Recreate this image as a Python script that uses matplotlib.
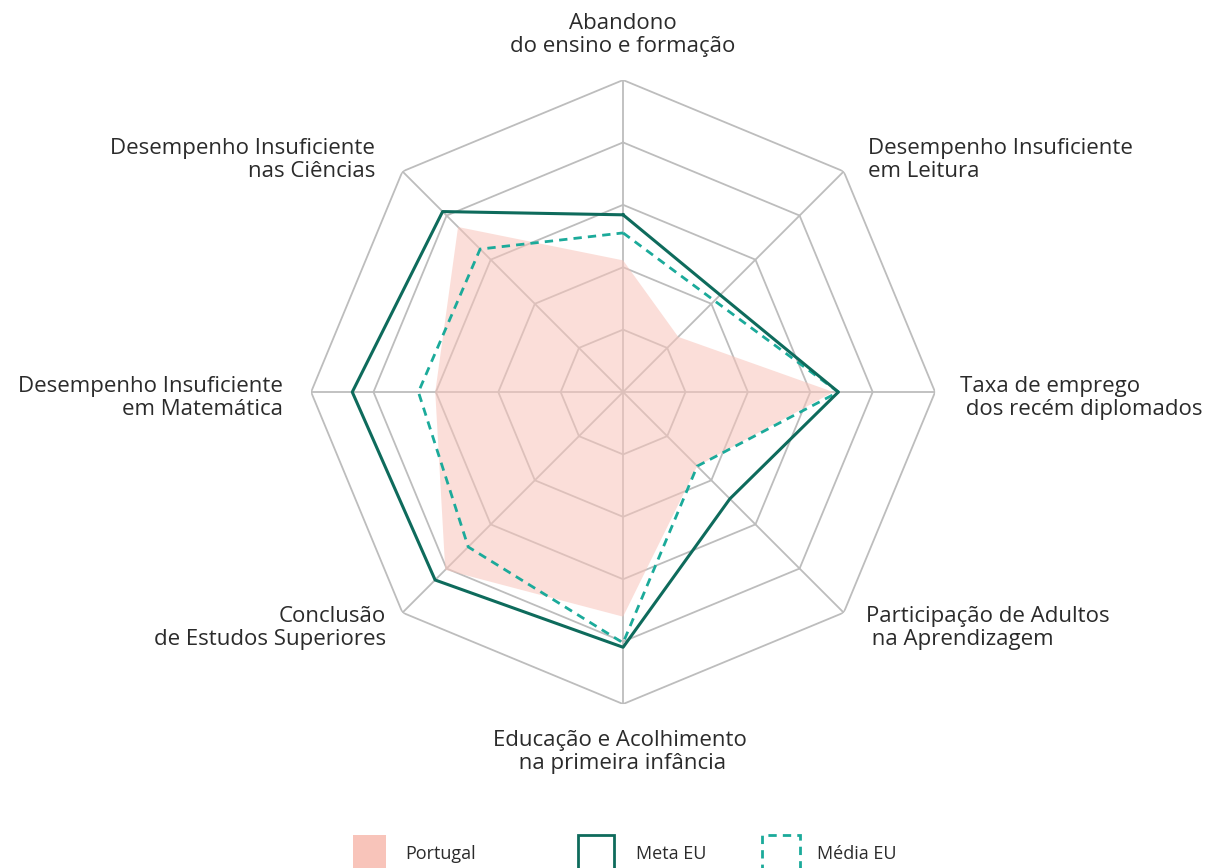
import numpy as np
import matplotlib.pyplot as plt
from matplotlib.patches import Rectangle

plt.rcParams['font.family'] = ['Open Sans', 'DejaVu Sans']

# Eixos (no sentido dos ponteiros do relógio a partir do topo)
categorias = [
    'Abandono\ndo ensino e formação',
    'Desempenho Insuficiente\nem Leitura',
    'Taxa de emprego\n dos recém diplomados',
    'Participação de Adultos\n na Aprendizagem',
    'Educação e Acolhimento\n na primeira infância',
    'Conclusão\nde Estudos Superiores',
    'Desempenho Insuficiente\nem Matemática',
    'Desempenho Insuficiente\nnas Ciências',
]

# Valores (escala 0-5)
portugal = [2.11, 1.25, 3.37, 1.68, 3.60, 4.03, 3.01, 3.74]
meta_eu = [2.84, 2.20, 3.45, 2.42, 4.09, 4.26, 4.34, 4.09]
media_eu = [2.55, 2.07, 3.45, 1.68, 4.02, 3.51, 3.28, 3.24]
niveis = [1, 2, 3, 4, 5]

cor_pt = '#F8C4BA'
cor_meta = '#0E6B5C'
cor_media = '#1BAA9A'
cor_grelha = '#BDBDBD'
cor_texto = '#2B2B2B'

n = len(categorias)
ang = np.linspace(0, 2 * np.pi, n, endpoint=False)
ang_f = np.append(ang, ang[0])

def fechar(v):
    return np.append(v, v[0])

fig = plt.figure(figsize=(12.08, 8.68), dpi=100)
ax = fig.add_axes([0.2575, 0.1889, 0.5166, 0.7189], projection='polar')
ax.set_theta_zero_location('N')
ax.set_theta_direction(-1)
ax.set_ylim(0, 5)
ax.grid(False)
ax.spines['polar'].set_visible(False)
ax.set_xticks([])
ax.set_yticks([])
ax.patch.set_alpha(0)

# Grelha octogonal
for nv in niveis:
    ax.plot(ang_f, [nv] * (n + 1), color=cor_grelha, lw=1.3, zorder=1)
for a in ang:
    ax.plot([a, a], [0, 5], color=cor_grelha, lw=1.3, zorder=1)

# Séries
ax.fill(ang_f, fechar(portugal), color=cor_pt, alpha=0.55, lw=0, zorder=2)
ax.plot(ang_f, fechar(meta_eu), color=cor_meta, lw=2.2, zorder=4)
ax.plot(ang_f, fechar(media_eu), color=cor_media, lw=2.0, ls=(0, (3, 2.2)), zorder=3)

# Rótulos dos eixos (posições em pixels da figura)
W, H = 1208, 868
rotulos = [
    (623, 35, 'center'),
    (868, 160, 'left'),
    (960, 398, 'left'),
    (866, 628, 'left'),
    (620, 752, 'center'),
    (386, 628, 'right'),
    (283, 398, 'right'),
    (375, 160, 'right'),
]
for (x, y, ha), txt in zip(rotulos, categorias):
    fig.text(x / W, 1 - y / H, txt, ha=ha, va='center', fontsize=16,
             color=cor_texto, linespacing=1.15, multialignment=ha)

# Legenda
def caixa(x0, x1, **kw):
    r = Rectangle((x0 / W, 1 - 880 / H), (x1 - x0) / W, 45 / H,
                  transform=fig.transFigure, **kw)
    fig.add_artist(r)

caixa(353, 386, facecolor=cor_pt, edgecolor='none')
caixa(578, 614, facecolor='none', edgecolor=cor_meta, lw=2)
caixa(762, 800, facecolor='none', edgecolor=cor_media, lw=2, ls=(0, (3, 2.2)))
for x, txt in [(405, 'Portugal'), (636, 'Meta EU'), (817, 'Média EU')]:
    fig.text(x / W, 1 - 854 / H, txt, ha='left', va='center', fontsize=13,
             color=cor_texto)

fig.savefig('out.png', dpi=100)
